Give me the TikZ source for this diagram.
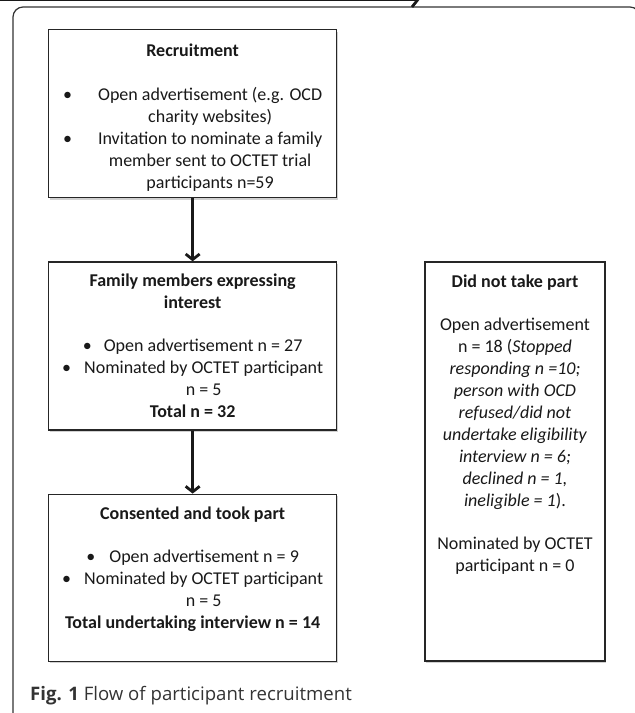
\documentclass[tikz,border=0pt]{standalone}
\usepackage{fontspec}
\setmainfont{Carlito}
\newfontfamily\capfont{Open Sans}
\usetikzlibrary{arrows.meta}
\usetikzlibrary{positioning}
\usetikzlibrary{shadows}

\newcommand{\bitem}[2][12pt]{\textbullet\hspace{#1}\begin{tabular}[t]{@{}c@{}}#2\end{tabular}}
\newcommand{\boxfont}{\fontsize{18}{22}\selectfont\setlength{\lineskip}{0pt}}

\tikzset{
  box/.style={draw=black!85, line width=1.3pt, fill=white, inner sep=0pt,
    minimum width=288pt, minimum height=168pt,
    drop shadow={shadow xshift=1.2pt, shadow yshift=-2pt, opacity=0.3, fill=black!60}},
  txt/.style={inner sep=0pt, align=center, text=black!90, font=\boxfont},
  flow/.style={line width=3pt, draw=black!90,
    -{Straight Barb[length=5.5pt, width=14pt, line width=2.8pt]}},
  captxt/.style={inner sep=0pt, text=black!80, font=\capfont\fontsize{18.6}{22}\selectfont},
}

\begin{document}
\begin{tikzpicture}[x=1pt, y=-1pt]
          \useasboundingbox (0,0) rectangle (635,713);
          \begin{scope}
            \clip (0,0) rectangle (635,713);
            \draw[black!80, line width=1.2pt, rounded corners=10pt]
              (640,722) -- (640,7) -- (13,7) -- (13,722);
          \end{scope}

          \node (recruit) [box, anchor=north west] at (48,29) {};
          \node (interest) [box, below = 63pt of recruit] {};
          \node (consent) [box, minimum height=167pt, below = 63pt of interest] {};
          \node (noshow) [box, minimum width=180pt, minimum height=399pt,
                          right = 87pt of interest.north east, anchor=north west] {};

          \node (recruittxt) [txt, below = 15pt of recruit.north]
            {\textbf{Recruitment}\\[22pt]
             \bitem[26pt]{Open advertisement (e.g. OCD\\charity websites)}\\
             \bitem[26pt]{Invitation to nominate a family\\member sent to OCTET trial\\participants n=59}};
          \node (interesttxt) [txt, below = 12pt of interest.north]
            {\textbf{Family members expressing}\\\textbf{interest}\\[21pt]
             \bitem{Open advertisement n = 27}\\
             \bitem[13pt]{Nominated by OCTET participant\\n = 5}\\
             \strut\textbf{Total n = 32}};
          \node (consenttxt) [txt, below = 13pt of consent.north]
            {\textbf{Consented and took part}\\[21pt]
             \bitem[14pt]{Open advertisement n = 9}\\
             \bitem[13pt]{Nominated by OCTET participant\\n = 5}\\
             \strut\textbf{Total undertaking interview n = 14}};
          \node (noshowtxt) [txt, below = 13pt of noshow.north]
            {\textbf{Did not take part}\\[21pt]
             Open advertisement\\
             n = 18 (\textit{Stopped}\\
             \textit{responding n =10;}\\
             \textit{person with OCD}\\
             \textit{refused/did not}\\
             \textit{undertake eligibility}\\
             \textit{interview n = 6;}\\
             \textit{declined n = 1,}\\
             \textit{ineligible = 1}).\\[21pt]
             Nominated by OCTET\\
             participant n = 0};

          \node (caption) [captxt, anchor=base west] at (30,700)
            {\textbf{Fig. 1} Flow of participant recruitment};

          \coordinate (split) [below = 24pt of interest.south];

          \draw[flow] (recruit) -- (interest);
          \draw[flow] (interest) -- (consent);
          \draw[flow, line width=2.4pt, shorten >= 5pt] (split) -- (noshow.west |- split);

        \end{tikzpicture}
\end{document}
